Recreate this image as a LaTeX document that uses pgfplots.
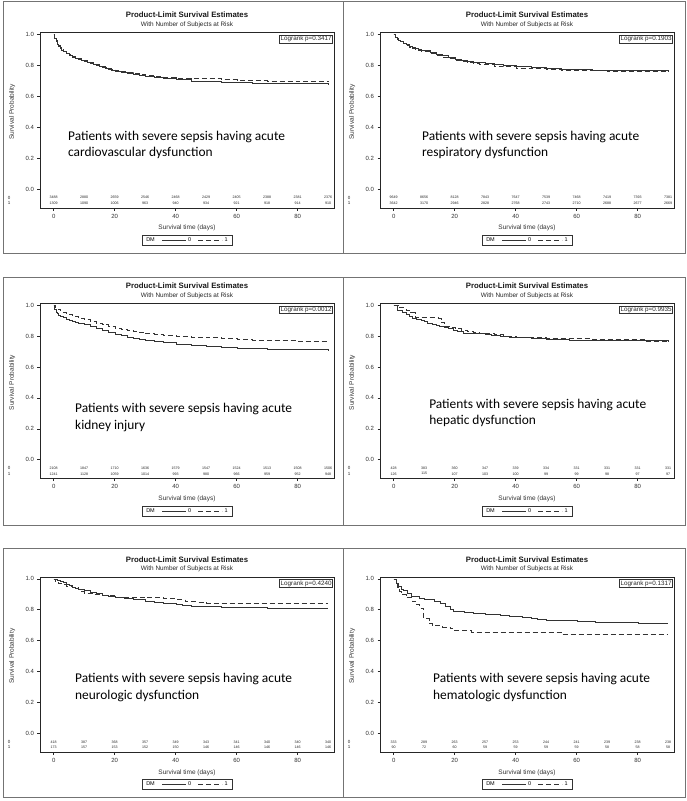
\documentclass[border=0pt]{standalone}
\usepackage{pgfplots}
\pgfplotsset{compat=1.18}
\usepackage{pgfplotstable}
\usepackage{fontspec}
\setmainfont{Liberation Sans}
\newfontfamily\calfont{Carlito}

% ---------- Panel 1: cardiovascular ----------
\pgfplotstableread{
t s
0 1.000
0.3 0.975
0.7 0.955
1 0.940
1.5 0.925
2 0.910
2.5 0.898
3 0.889
4 0.876
5 0.865
6 0.856
7 0.848
8 0.840
9 0.833
10 0.826
11 0.819
12 0.812
13 0.806
14 0.800
15 0.794
16 0.788
17 0.781
18 0.775
19 0.768
20 0.762
22 0.755
24 0.749
26 0.742
28 0.736
30 0.730
33 0.722
36 0.716
40 0.708
45 0.701
50 0.696
55 0.693
60 0.690
65 0.687
70 0.685
80 0.683
85 0.682
90 0.681
}\cvA
\pgfplotstableread{
t s
0 1.000
0.3 0.978
0.7 0.960
1 0.945
1.5 0.930
2 0.915
2.5 0.903
3 0.894
4 0.882
5 0.871
6 0.862
7 0.854
8 0.846
9 0.839
10 0.833
11 0.826
12 0.819
13 0.812
14 0.805
15 0.798
16 0.792
17 0.786
18 0.780
19 0.775
20 0.769
22 0.762
24 0.756
26 0.749
28 0.742
30 0.736
33 0.730
36 0.724
40 0.718
45 0.716
50 0.714
55 0.708
60 0.704
65 0.702
70 0.701
80 0.698
85 0.696
90 0.695
}\cvB
% ---------- Panel 2: respiratory ----------
\pgfplotstableread{
t s
0 1.000
0.5 0.985
1 0.974
1.5 0.966
2 0.959
3 0.946
4 0.935
5 0.926
6 0.918
7 0.911
8 0.905
9 0.901
10 0.897
12 0.885
14 0.874
16 0.863
18 0.852
20 0.842
22 0.836
24 0.830
26 0.824
28 0.818
30 0.813
33 0.806
36 0.800
40 0.793
45 0.787
50 0.781
55 0.777
60 0.774
65 0.771
70 0.769
75 0.768
80 0.766
90 0.765
}\reA
\pgfplotstableread{
t s
0 1.000
0.5 0.984
1 0.972
1.5 0.963
2 0.956
3 0.942
4 0.930
5 0.921
6 0.913
7 0.906
8 0.899
9 0.894
10 0.890
12 0.878
14 0.866
16 0.855
18 0.844
20 0.835
22 0.828
24 0.822
26 0.816
28 0.810
30 0.805
33 0.798
36 0.792
40 0.785
45 0.780
50 0.775
55 0.771
60 0.768
65 0.766
70 0.764
75 0.763
80 0.762
90 0.760
}\reB
% ---------- Panel 3: kidney ----------
\pgfplotstableread{
t s
0 1.000
0.3 0.975
0.7 0.958
1 0.948
1.5 0.938
2 0.930
3 0.920
4 0.912
5 0.905
6 0.898
7 0.892
8 0.886
9 0.881
10 0.876
12 0.862
14 0.849
16 0.836
18 0.823
20 0.811
22 0.803
24 0.796
26 0.789
28 0.782
30 0.776
33 0.768
36 0.760
40 0.749
45 0.741
50 0.734
55 0.728
60 0.723
65 0.719
70 0.716
80 0.713
90 0.712
}\kiA
\pgfplotstableread{
t s
0 1.000
0.5 0.985
1 0.975
2 0.965
3 0.955
4 0.948
5 0.941
6 0.934
7 0.927
8 0.920
9 0.914
10 0.909
12 0.897
14 0.886
16 0.875
18 0.864
20 0.853
22 0.846
24 0.839
26 0.832
28 0.824
30 0.817
33 0.811
36 0.806
40 0.800
45 0.795
50 0.790
55 0.784
60 0.778
65 0.775
70 0.772
80 0.766
90 0.762
}\kiB
% ---------- Panel 4: hepatic ----------
\pgfplotstableread{
t s
0 1.000
1.3 0.967
2.9 0.956
4 0.944
5 0.930
6.2 0.916
7.5 0.908
8.9 0.900
10 0.895
11 0.886
12.6 0.878
14 0.870
15 0.864
16.4 0.856
18 0.848
19.5 0.841
20.8 0.833
22.9 0.822
26 0.818
30 0.811
32 0.806
34.8 0.800
38 0.795
42 0.792
45 0.789
50 0.780
55 0.777
57.5 0.771
90 0.769
}\heA
\pgfplotstableread{
t s
0 1.000
1.5 0.984
4 0.968
5.5 0.952
7 0.921
14.5 0.913
15.5 0.889
16.5 0.865
18.5 0.857
20 0.849
22 0.841
24 0.833
26 0.825
28 0.817
33 0.810
36 0.802
40 0.794
45 0.790
50 0.786
62 0.786
65 0.780
80 0.780
82 0.770
90 0.769
}\heB
% ---------- Panel 5: neurologic ----------
\pgfplotstableread{
t s
0 1.000
1 0.993
2 0.986
3 0.976
4 0.967
5 0.957
6 0.948
7 0.941
8 0.935
9 0.930
10 0.926
12 0.916
14 0.906
16 0.897
18 0.888
20 0.880
23 0.872
26 0.865
30 0.854
33 0.847
36 0.842
40 0.835
42 0.826
45 0.823
50 0.821
55 0.818
60 0.816
65 0.814
70 0.813
90 0.813
}\neA
\pgfplotstableread{
t s
0 1.000
0.5 0.983
1.5 0.971
3 0.965
4 0.954
6 0.948
8 0.931
9 0.920
10 0.908
13 0.902
16 0.896
20 0.884
29 0.884
30 0.879
35 0.879
36 0.873
40 0.867
43 0.856
47 0.850
50 0.844
90 0.844
}\neB
% ---------- Panel 6: hematologic ----------
\pgfplotstableread{
t s
0 1.000
0.8 0.974
1.5 0.952
2.4 0.935
3.2 0.926
4.5 0.905
5.6 0.887
8.3 0.876
10 0.868
13.2 0.854
15.4 0.839
17 0.822
18.5 0.805
19.5 0.790
23 0.784
26 0.778
30 0.772
35 0.767
38 0.760
42 0.752
45 0.745
47 0.740
50 0.733
55 0.730
60 0.724
66 0.721
72 0.718
80 0.715
90 0.715
}\hmA
\pgfplotstableread{
t s
0 1.000
0.7 0.978
1.3 0.944
1.8 0.922
2.3 0.900
4 0.878
6 0.856
7.5 0.833
8.5 0.811
9.8 0.744
11.5 0.711
12.5 0.700
16 0.689
18.5 0.678
19.8 0.667
25.5 0.656
55 0.644
90 0.644
}\hmB

\pgfplotsset{
  legend image code/.code={\draw[#1] (0pt,0pt) -- (24pt,0pt);},
  km/.style={
    scale only axis, width=294pt, height=175.5pt,
    anchor=north west,
    xmin=-4.5, xmax=91.9, ymin=-0.123, ymax=1.013,
    xtick={0,20,40,60,80}, ytick={0,0.2,0.4,0.6,0.8,1.0},
    yticklabel style={/pgf/number format/.cd,fixed,fixed zerofill,precision=1},
    /pgf/number format/assume math mode=true,
    tick align=outside, tick pos=left, major tick length=2.5pt,
    axis line style={black!85, line width=0.5pt},
    every tick/.style={black!85, line width=0.5pt},
    tick label style={font=\fontsize{6}{7}\selectfont, text=black!80},
    xlabel={Survival time (days)}, ylabel={Survival Probability},
    label style={font=\fontsize{6.5}{7}\selectfont, text=black!80},
    xlabel style={at={(axis description cs:0.5,-0.114)}, anchor=center},
    ylabel style={at={(axis description cs:-0.095,0.548)}, anchor=center},
    clip mode=individual,
    legend style={at={(0.5,-0.154)}, anchor=north, legend columns=-1,
      draw=black!80, line width=0.4pt, font=\fontsize{5.5}{6}\selectfont,
      inner xsep=2pt, inner ysep=0.3pt,
      /tikz/every even column/.append style={column sep=5pt}},
  },
  sA/.style={black!80, line width=0.4pt, const plot},
  sB/.style={black!80, line width=0.4pt, const plot, dash pattern=on 5pt off 3pt},
}
\tikzset{atrisk/.style={font=\fontsize{3.6}{4}\selectfont, inner sep=0pt, text=black!85},
  grp/.style={font=\fontsize{4.5}{5}\selectfont, inner sep=0pt, text=black!85}}

% #1 axis left, #2 title y, #3 #4 tables, #5 #6 at risk, #7 p, #8 overlay text, #9 overlay pos
\newcommand\panel[9]{%
\begin{axis}[km, at={({#1pt},{-#2pt-17.5pt})}]
\addlegendimage{empty legend}\addlegendentry{DM}
\addplot[sA] table[x=t,y=s] {#3}; \addlegendentry{0}
\addplot[sB] table[x=t,y=s] {#4}; \addlegendentry{1}
\node[font=\bfseries\fontsize{7.8}{8}\selectfont, text=black!90] at (rel axis cs:0.5,1.0997) {Product-Limit Survival Estimates};
\node[font=\fontsize{6.4}{7}\selectfont, text=black!85] at (rel axis cs:0.5,1.0427) {With Number of Subjects at Risk};
\node[draw=black!80, line width=0.4pt, anchor=north east, inner xsep=1pt, inner ysep=0.8pt,
  font=\fontsize{6.3}{7}\selectfont, text=black!85] at (rel axis cs:0.996,0.985) {Logrank p=#7};
\node[anchor=west, align=left, inner sep=0pt, font=\calfont\fontsize{13.4}{16.5}\selectfont] at (rel axis cs:#9) {#8};
\node[grp] at (rel axis cs:-0.105,0.0598) {0};
\node[grp] at (rel axis cs:-0.105,0.0282) {1};
\foreach \v [count=\i from 0] in {#5} {\edef\tmp{\noexpand\node[atrisk] at (axis cs:\the\numexpr\i*10\relax,-0.055) {\v};}\tmp}
\foreach \v [count=\i from 0] in {#6} {\edef\tmp{\noexpand\node[atrisk] at (axis cs:\the\numexpr\i*10\relax,-0.091) {\v};}\tmp}
\end{axis}}

\begin{document}
\begin{tikzpicture}
\path[use as bounding box, fill=white] (0pt,0pt) rectangle (687pt,-801pt);
\begin{scope}[draw=black!55, line width=0.8pt]
\draw (3pt,-1pt) rectangle (343pt,-253pt);
\draw (343pt,-1pt) rectangle (685pt,-253pt);
\draw (3pt,-277pt) rectangle (343pt,-525pt);
\draw (343pt,-277pt) rectangle (685pt,-525pt);
\draw (3pt,-548.5pt) rectangle (343pt,-797pt);
\draw (343pt,-548.5pt) rectangle (685pt,-797pt);
\end{scope}
\panel{40}{15}{\cvA}{\cvB}{3488,2880,2659,2546,2468,2429,2405,2388,2381,2376}{1309,1090,1006,963,940,934,921,918,914,910}{0.3417}{Patients with severe sepsis having acute\\cardiovascular dysfunction}{0.095,0.359}
\panel{380}{15}{\reA}{\reB}{9649,8656,8128,7843,7647,7539,7468,7419,7393,7381}{3642,3170,2946,2828,2768,2743,2710,2688,2677,2669}{0.1903}{Patients with severe sepsis having acute\\respiratory dysfunction}{0.143,0.359}
\panel{40}{285.7}{\kiA}{\kiB}{2108,1847,1710,1636,1579,1547,1524,1513,1508,1506}{1241,1128,1059,1014,993,980,966,959,952,948}{0.0012}{Patients with severe sepsis having acute\\kidney injury}{0.119,0.35}
\panel{380}{285.7}{\heA}{\heB}{428,383,360,347,339,334,331,331,331,331}{126,115,107,103,100,99,99,98,97,97}{0.9935}{Patients with severe sepsis having acute\\hepatic dysfunction}{0.167,0.376}
\panel{40}{559.3}{\neA}{\neB}{418,387,368,357,349,343,341,340,340,340}{173,157,153,152,150,146,146,146,146,146}{0.4240}{Patients with severe sepsis having acute\\neurologic dysfunction}{0.119,0.368}
\panel{380}{559.3}{\hmA}{\hmB}{333,289,263,257,253,244,241,239,238,238}{90,72,60,59,59,59,59,58,58,58}{0.1317}{Patients with severe sepsis having acute\\hematologic dysfunction}{0.18,0.368}
\end{tikzpicture}
\end{document}
